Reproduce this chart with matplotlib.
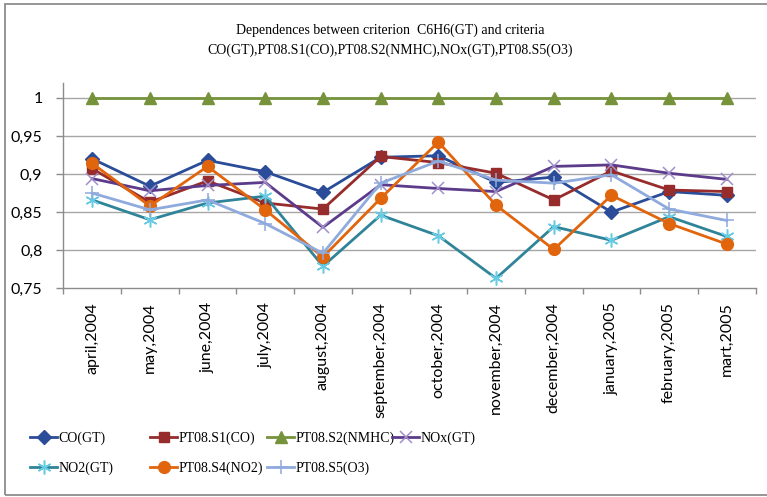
import matplotlib
matplotlib.use("Agg")
import matplotlib.pyplot as plt
from matplotlib.patches import Rectangle

months = ["april,2004", "may,2004", "june,2004", "july,2004", "august,2004",
          "september,2004", "october,2004", "november,2004", "december,2004",
          "january,2005", "february,2005", "mart,2005"]

co_gt = [0.920, 0.884, 0.918, 0.903, 0.876, 0.922, 0.924, 0.889, 0.896, 0.850, 0.877, 0.872]
pt08_s1_co = [0.907, 0.863, 0.891, 0.862, 0.854, 0.923, 0.915, 0.901, 0.866, 0.904, 0.879, 0.877]
pt08_s2_nmhc = [1.0] * 12
nox_gt = [0.894, 0.878, 0.885, 0.889, 0.830, 0.886, 0.881, 0.877, 0.910, 0.912, 0.901, 0.893]
no2_gt = [0.866, 0.840, 0.862, 0.871, 0.779, 0.846, 0.819, 0.763, 0.831, 0.813, 0.844, 0.818]
pt08_s4_no2 = [0.914, 0.858, 0.910, 0.853, 0.791, 0.868, 0.942, 0.859, 0.801, 0.872, 0.835, 0.808]
pt08_s5_o3 = [0.875, 0.853, 0.866, 0.835, 0.796, 0.888, 0.917, 0.892, 0.888, 0.899, 0.854, 0.839]

series = [
    ("CO(GT)", co_gt, dict(color="#2B4C98", marker="D", ms=7, mfc="#2B4C98", mec="#2B4C98", mew=1)),
    ("PT08.S1(CO)", pt08_s1_co, dict(color="#962C2B", marker="s", ms=7.5, mfc="#962C2B", mec="#962C2B", mew=1)),
    ("PT08.S2(NMHC)", pt08_s2_nmhc, dict(color="#76933C", marker="^", ms=8.5, mfc="#76933C", mec="#76933C", mew=1)),
    ("NOx(GT)", nox_gt, dict(color="#5B3B8A", marker="x", ms=8, mfc="none", mec="#A18FCB", mew=1.1)),
    ("NO2(GT)", no2_gt, dict(color="#2F8499", marker=(6, 2, 0), ms=10, mfc="none", mec="#67CBE3", mew=1.1)),
    ("PT08.S4(NO2)", pt08_s4_no2, dict(color="#E1650D", marker="o", ms=8.5, mfc="#E1650D", mec="#E1650D", mew=1)),
    ("PT08.S5(O3)", pt08_s5_o3, dict(color="#8FAADC", marker="+", ms=10, mfc="none", mec="#8FAADC", mew=1.1)),
]

fig = plt.figure(figsize=(7.67, 4.97), dpi=100)
W, H = 767, 497

# chart area frame
fig.patches.append(Rectangle((5 / W, 2 / H), 1.2, 491 / H, transform=fig.transFigure,
                             fill=False, edgecolor="#8C8C8C", linewidth=1.3))

ax = fig.add_axes([63.3 / W, 1 - 288.3 / H, (755.7 - 63.3) / W, (288.3 - 82.6) / H])
ax.set_xlim(-0.5, 11.5)
ax.set_ylim(0.75, 1.02)

x = list(range(len(months)))
for name, vals, st in series:
    ax.plot(x, vals, label=name, linewidth=2.0, solid_joinstyle="round", **st)

yt = [0.75, 0.8, 0.85, 0.9, 0.95, 1.0]
ax.set_yticks(yt)
ax.set_yticklabels(["0,75", "0,8", "0,85", "0,9", "0,95", "1"],
                   fontfamily="Lato", fontsize=11.5)
for v in yt[1:]:
    ax.axhline(v, color="#A6A6A6", linewidth=1.0, zorder=0)

ax.set_xticks(x)
ax.set_xticklabels(months, rotation=90, fontfamily="Lato", fontsize=11.5)
ax.set_xticks([i - 0.5 for i in range(13)], minor=True)
ax.tick_params(axis="x", which="major", length=0, pad=10)
ax.tick_params(axis="x", which="minor", length=4, color="#8C8C8C", width=1)
ax.tick_params(axis="y", which="major", length=5, color="#8C8C8C", width=1, pad=10)

for s in ("top", "right"):
    ax.spines[s].set_visible(False)
for s in ("left", "bottom"):
    ax.spines[s].set_color("#8C8C8C")
    ax.spines[s].set_linewidth(1.0)

fig.text(390 / W, 1 - 30 / H, "Dependences between criterion  C6H6(GT) and criteria",
         ha="center", va="center", fontfamily="Liberation Serif", fontsize=10)
fig.text(390 / W, 1 - 50 / H, "CO(GT),PT08.S1(CO),PT08.S2(NMHC),NOx(GT),PT08.S5(O3)",
         ha="center", va="center", fontfamily="Liberation Serif", fontsize=10)

# legend: one entry per slot, laid out in rows of four
handles, labels = ax.get_legend_handles_labels()
col_x = [30, 150, 267, 392]
row_y = [438, 468]
for i, (h, lab) in enumerate(zip(handles, labels)):
    r, c = divmod(i, 4)
    fig.legend([h], [lab], loc="center left",
               bbox_to_anchor=(col_x[c] / W, 1 - row_y[r] / H),
               frameon=False, handlelength=1.95, handletextpad=0.12,
               borderpad=0, borderaxespad=0,
               prop={"family": "Liberation Serif", "size": 10})

fig.savefig("out.png", dpi=100)
